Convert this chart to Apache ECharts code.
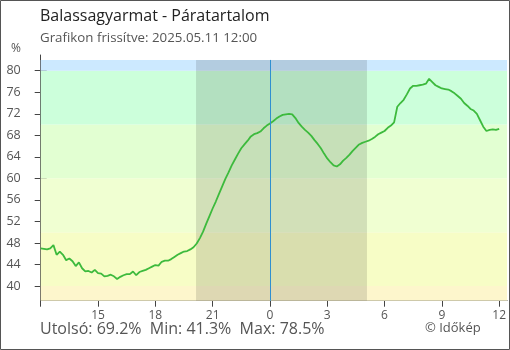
<!DOCTYPE html>
<html>
<head>
<meta charset="utf-8">
<script src="https://cdn.jsdelivr.net/npm/echarts@6/dist/echarts.min.js"></script>
<style>
html, body { margin: 0; padding: 0; background: #fff; }
#chart { width: 510px; height: 350px; }
</style>
</head>
<body>
<div id="chart"></div>
<script>
// páratartalom 10 percenként, 2025.05.10 12:00 - 05.11 12:00
const startHour = 12
const stepMinutes = 10
const humidity = [
    47.0, 46.9, 46.8, 47.0, 47.6, 45.8, 46.4, 45.8, 44.8, 45.1,
    44.6, 43.7, 44.4, 43.3, 42.7, 42.8, 42.5, 43.0, 42.4, 42.3,
    41.8, 41.9, 42.1, 41.8, 41.3, 41.7, 42.0, 42.2, 42.2, 42.7,
    42.0, 42.6, 42.8, 43.0, 43.3, 43.6, 43.9, 43.8, 44.5, 44.7,
    44.7, 45.0, 45.4, 45.8, 46.1, 46.4, 46.5, 46.8, 47.2, 47.9,
    48.9, 50.1, 51.6, 53.0, 54.4, 55.7, 57.1, 58.5, 59.9, 61.1,
    62.4, 63.5, 64.6, 65.6, 66.3, 67.0, 67.8, 68.2, 68.4, 68.7,
    69.3, 69.8, 70.2, 70.6, 71.1, 71.5, 71.8, 71.9, 72.0, 71.9,
    71.2, 70.3, 69.6, 69.0, 68.5, 67.9, 67.1, 66.4, 65.6, 64.6,
    63.7, 63.0, 62.4, 62.2, 62.6, 63.3, 63.8, 64.4, 65.1, 65.7,
    66.3, 66.6, 66.8, 67.0, 67.3, 67.7, 68.2, 68.5, 68.8, 69.4,
    69.8, 70.4, 73.3, 74.0, 74.6, 75.6, 76.7, 77.2, 77.2, 77.3,
    77.4, 77.6, 78.5, 77.9, 77.3, 77.0, 76.7, 76.6, 76.5, 76.2,
    75.8, 75.3, 74.8, 74.0, 73.5, 72.9, 72.6, 72.0, 70.8, 69.6,
    68.8, 69.0, 69.1, 69.0, 69.2
]
const xTicks = [12, 15, 18, 21, 24, 27, 30, 33, 36]
const xTickLabels = ['', '15', '18', '21', '0', '3', '6', '9', '12']
const yTicks = [40, 44, 48, 52, 56, 60, 64, 68, 72, 76, 80]
const bandLimits = [40, 50, 60, 70, 80]
const sunset = 20.13
const sunrise = 29.08
const midnight = 24

const xMin = 12, xMax = 36.41
const yMin = 37.27, yMax = 82.92, bandTop = 82.0

const bandColors = ['#fdf6cc', '#f7fdc6', '#f0ffd2', '#e2ffd2', '#ccffdb', '#cce9ff']
const edges = [yMin].concat(bandLimits, [bandTop])
const bandAreas = []
for (let i = 0; i < edges.length - 1; i++) {
    bandAreas.push([
        { xAxis: xMin, yAxis: edges[i], itemStyle: { color: bandColors[i] } },
        { xAxis: xMax, yAxis: edges[i + 1] }
    ])
}
// éjszaka
bandAreas.push([
    { xAxis: sunset, yAxis: yMin, itemStyle: { color: 'rgba(0,0,0,0.12)' } },
    { xAxis: sunrise, yAxis: bandTop }
])

const font = 'Open Sans'
const chart = echarts.init(document.getElementById('chart'))
chart.setOption({
    animation: false,
    grid: { left: 40.7, right: 3, top: 55, bottom: 49.3 },
    xAxis: [
        {
            type: 'value', min: xMin, max: xMax, position: 'bottom',
            splitLine: { show: false },
            axisLine: { lineStyle: { color: '#444', width: 1 } },
            axisTick: { customValues: xTicks, length: 6, lineStyle: { color: '#444' } },
            axisLabel: {
                customValues: xTicks, margin: 9, color: '#555', fontSize: 12, fontFamily: font,
                formatter: v => xTickLabels[xTicks.indexOf(v)] || ''
            }
        },
        {
            type: 'value', min: xMin, max: xMax, position: 'bottom',
            splitLine: { show: false },
            axisLine: { show: false },
            axisTick: { customValues: xTicks, inside: true, length: 6, lineStyle: { color: '#444' } },
            axisLabel: { show: false }
        }
    ],
    yAxis: [
        {
            type: 'value', min: yMin, max: yMax, position: 'left',
            splitLine: { show: false },
            axisLine: { show: true, lineStyle: { color: '#444', width: 1 } },
            axisTick: { show: true, customValues: yTicks, length: 6, lineStyle: { color: '#444' } },
            axisLabel: { customValues: yTicks, margin: 20, color: '#555', fontSize: 12.5, fontFamily: font }
        },
        {
            type: 'value', min: yMin, max: yMax, position: 'left',
            splitLine: { show: false },
            axisLine: { show: false },
            axisTick: { show: true, customValues: yTicks, inside: true, length: 6, lineStyle: { color: '#444' } },
            axisLabel: { show: false }
        }
    ],
    graphic: [
        { type: 'rect', shape: { x: 0.5, y: 0.5, width: 509, height: 349 }, style: { fill: 'none', stroke: '#555', lineWidth: 1 }, z: 100 },
        { type: 'text', left: 40, top: 8, style: { text: 'Balassagyarmat - Páratartalom', fill: '#222', font: '16px "Open Sans"' } },
        { type: 'text', left: 40, top: 32, style: { text: 'Grafikon frissítve: 2025.05.11 12:00', fill: '#555', font: '13.3px "Open Sans"' } },
        { type: 'text', left: 11, top: 43, style: { text: '%', fill: '#555', font: '12px "Open Sans"' } },
        { type: 'text', left: 40, top: 321, style: { text: 'Utolsó: 69.2%  Min: 41.3%  Max: 78.5%', fill: '#555', font: '16px "Open Sans"' } },
        { type: 'text', left: 425, top: 322, style: { text: '© Időkép', fill: '#555', font: '13px "Open Sans"' } }
    ],
    series: [
        {
            type: 'line', data: [], z: 1, silent: true,
            markArea: { silent: true, data: bandAreas },
            markLine: {
                silent: true, symbol: 'none', label: { show: false },
                lineStyle: { color: '#2f8fd0', width: 1, type: 'solid' },
                data: [[{ coord: [midnight, yMin] }, { coord: [midnight, bandTop] }]]
            }
        },
        {
            type: 'line', z: 3, silent: true, showSymbol: false,
            data: humidity.map((v, i) => [startHour + i * stepMinutes / 60, v]),
            lineStyle: { color: '#3dba3d', width: 1.8 }
        }
    ]
})
</script>
</body>
</html>
